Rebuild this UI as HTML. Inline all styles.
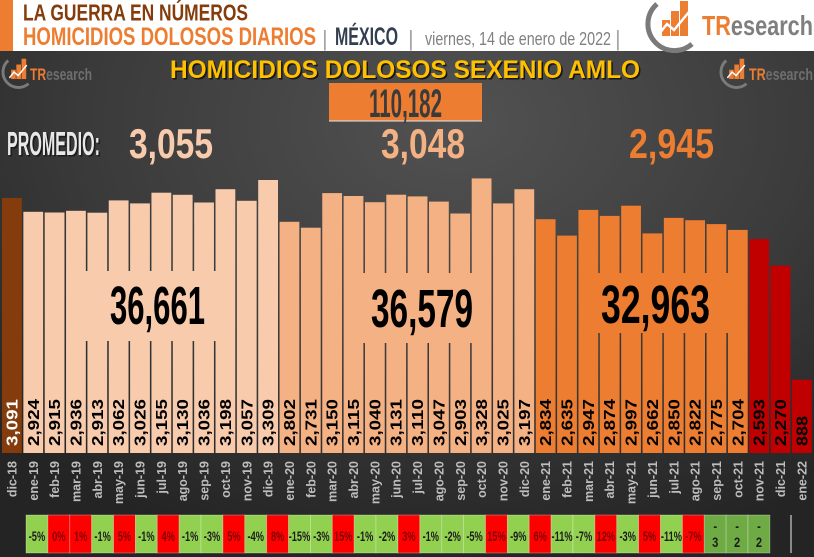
<!DOCTYPE html>
<html><head><meta charset="utf-8">
<style>
html,body{margin:0;padding:0;background:#fff;}
svg{display:block;font-family:"Liberation Sans",Arial,sans-serif;}
</style></head>
<body>
<svg width="814" height="557" viewBox="0 0 814 557" xmlns="http://www.w3.org/2000/svg">
<defs>
<radialGradient id="bg" cx="0.56" cy="0.22" r="0.8" fx="0.56" fy="0.22">
<stop offset="0" stop-color="#525252"/>
<stop offset="0.55" stop-color="#3b3b3b"/>
<stop offset="1" stop-color="#242424"/>
</radialGradient>
<g id="icon">
<path d="M9,6 A25,25 0 0 0 44,46" stroke="#7a7a7a" stroke-width="5" fill="none"/>
<rect x="14" y="22" width="8" height="16" fill="#ed7d31"/>
<rect x="23" y="13" width="8" height="25" fill="#ed7d31"/>
<rect x="32" y="3" width="8" height="35" fill="#ed7d31"/>
<polyline points="11,36 19,26 26,32 41,14" stroke="#fff" stroke-width="2.5" fill="none"/>
</g>
</defs>
<!-- background -->
<rect x="0" y="0" width="814" height="557" fill="url(#bg)"/>
<!-- header -->
<rect x="0" y="0" width="814" height="51" fill="#ffffff"/>
<rect x="0" y="0" width="13" height="51" fill="#ed7d31"/>
<text x="23" y="20.5" font-size="23" font-weight="bold" fill="#843c0c" textLength="225" lengthAdjust="spacingAndGlyphs">LA GUERRA EN NÚMEROS</text>
<text x="23" y="45" font-size="25" font-weight="bold" fill="#ed7d31" textLength="293" lengthAdjust="spacingAndGlyphs">HOMICIDIOS DOLOSOS DIARIOS</text>
<text x="322" y="46" font-size="22" fill="#a6a6a6">|</text>
<text x="335" y="45" font-size="25" font-weight="bold" fill="#333f4f" textLength="63" lengthAdjust="spacingAndGlyphs">MÉXICO</text>
<text x="408" y="46" font-size="22" fill="#a6a6a6">|</text>
<text x="425" y="45" font-size="18" fill="#808080" textLength="186" lengthAdjust="spacingAndGlyphs">viernes, 14 de enero de 2022</text>
<text x="615" y="46" font-size="22" fill="#a6a6a6">|</text>
<!-- top right logo -->
<g transform="translate(648,-2)"><use href="#icon"/></g>
<text x="702" y="35" font-size="28" font-weight="bold" textLength="111" lengthAdjust="spacingAndGlyphs"><tspan fill="#ed7d31">TR</tspan><tspan fill="#7f7f7f">esearch</tspan></text>
<!-- small logos -->
<g transform="translate(3,57) scale(0.58)"><use href="#icon"/></g>
<text x="30" y="80" font-size="17" font-weight="bold" textLength="62" lengthAdjust="spacingAndGlyphs"><tspan fill="#ed7d31">TR</tspan><tspan fill="#6e6e6e">esearch</tspan></text>
<g transform="translate(721,57) scale(0.58)"><use href="#icon"/></g>
<text x="749" y="80" font-size="17" font-weight="bold" textLength="64" lengthAdjust="spacingAndGlyphs"><tspan fill="#ed7d31">TR</tspan><tspan fill="#6e6e6e">esearch</tspan></text>
<!-- title -->
<text x="171.5" y="79.5" font-size="25" font-weight="bold" fill="#161616" textLength="470" lengthAdjust="spacingAndGlyphs">HOMICIDIOS DOLOSOS SEXENIO AMLO</text>
<text x="170" y="78" font-size="25" font-weight="bold" fill="#ffc000" textLength="470" lengthAdjust="spacingAndGlyphs">HOMICIDIOS DOLOSOS SEXENIO AMLO</text>
<!-- total box -->
<rect x="329" y="83" width="153" height="38" fill="#ed7d31"/>
<line x1="329" y1="121" x2="482" y2="121" stroke="#e8e8e8" stroke-width="1"/>
<text x="369" y="117" font-size="40" font-weight="bold" fill="#3b3b3b" textLength="73" lengthAdjust="spacingAndGlyphs">110,182</text>
<!-- promedio -->
<text x="8.5" y="156.5" font-size="33" font-weight="bold" fill="#1a1a1a" textLength="93" lengthAdjust="spacingAndGlyphs">PROMEDIO:</text>
<text x="7" y="155" font-size="33" font-weight="bold" fill="#e8e8e8" textLength="93" lengthAdjust="spacingAndGlyphs">PROMEDIO:</text>
<text x="129" y="158" font-size="42" font-weight="bold" fill="#f8cbad" textLength="84" lengthAdjust="spacingAndGlyphs">3,055</text>
<text x="381" y="158" font-size="42" font-weight="bold" fill="#f4b183" textLength="84" lengthAdjust="spacingAndGlyphs">3,048</text>
<text x="629" y="158" font-size="42" font-weight="bold" fill="#ed7d31" textLength="85" lengthAdjust="spacingAndGlyphs">2,945</text>
<!-- bars -->
<g>
<rect x="2.00" y="198.0" width="19.8" height="255.0" fill="#843c0c"/>
<rect x="23.35" y="211.8" width="19.8" height="241.2" fill="#f8cbad"/>
<rect x="44.70" y="212.5" width="19.8" height="240.5" fill="#f8cbad"/>
<rect x="66.05" y="210.8" width="19.8" height="242.2" fill="#f8cbad"/>
<rect x="87.40" y="212.7" width="19.8" height="240.3" fill="#f8cbad"/>
<rect x="108.75" y="200.4" width="19.8" height="252.6" fill="#f8cbad"/>
<rect x="130.10" y="203.4" width="19.8" height="249.6" fill="#f8cbad"/>
<rect x="151.45" y="192.7" width="19.8" height="260.3" fill="#f8cbad"/>
<rect x="172.80" y="194.8" width="19.8" height="258.2" fill="#f8cbad"/>
<rect x="194.15" y="202.5" width="19.8" height="250.5" fill="#f8cbad"/>
<rect x="215.50" y="189.2" width="19.8" height="263.8" fill="#f8cbad"/>
<rect x="236.85" y="200.8" width="19.8" height="252.2" fill="#f8cbad"/>
<rect x="258.20" y="180.0" width="19.8" height="273.0" fill="#f8cbad"/>
<rect x="279.55" y="221.8" width="19.8" height="231.2" fill="#f4b183"/>
<rect x="300.90" y="227.7" width="19.8" height="225.3" fill="#f4b183"/>
<rect x="322.25" y="193.1" width="19.8" height="259.9" fill="#f4b183"/>
<rect x="343.60" y="196.0" width="19.8" height="257.0" fill="#f4b183"/>
<rect x="364.95" y="202.2" width="19.8" height="250.8" fill="#f4b183"/>
<rect x="386.30" y="194.7" width="19.8" height="258.3" fill="#f4b183"/>
<rect x="407.65" y="196.4" width="19.8" height="256.6" fill="#f4b183"/>
<rect x="429.00" y="201.6" width="19.8" height="251.4" fill="#f4b183"/>
<rect x="450.35" y="213.5" width="19.8" height="239.5" fill="#f4b183"/>
<rect x="471.70" y="178.4" width="19.8" height="274.6" fill="#f4b183"/>
<rect x="493.05" y="203.4" width="19.8" height="249.6" fill="#f4b183"/>
<rect x="514.40" y="189.2" width="19.8" height="263.8" fill="#f4b183"/>
<rect x="535.75" y="219.2" width="19.8" height="233.8" fill="#ed7d31"/>
<rect x="557.10" y="235.6" width="19.8" height="217.4" fill="#ed7d31"/>
<rect x="578.45" y="209.9" width="19.8" height="243.1" fill="#ed7d31"/>
<rect x="599.80" y="215.9" width="19.8" height="237.1" fill="#ed7d31"/>
<rect x="621.15" y="205.7" width="19.8" height="247.3" fill="#ed7d31"/>
<rect x="642.50" y="233.4" width="19.8" height="219.6" fill="#ed7d31"/>
<rect x="663.85" y="217.9" width="19.8" height="235.1" fill="#ed7d31"/>
<rect x="685.20" y="220.2" width="19.8" height="232.8" fill="#ed7d31"/>
<rect x="706.55" y="224.1" width="19.8" height="228.9" fill="#ed7d31"/>
<rect x="727.90" y="229.9" width="19.8" height="223.1" fill="#ed7d31"/>
<rect x="749.25" y="239.1" width="19.8" height="213.9" fill="#c00000"/>
<rect x="770.60" y="265.7" width="19.8" height="187.3" fill="#c00000"/>
<rect x="791.95" y="379.7" width="19.8" height="73.3" fill="#c00000"/>
</g>
<!-- overlay boxes -->
<rect x="68" y="271" width="166" height="70" fill="#f8cbad"/>
<rect x="345" y="273" width="145" height="70" fill="#f4b183"/>
<rect x="585" y="273" width="149" height="60" fill="#ed7d31"/>
<text x="110" y="324" font-size="54" font-weight="bold" fill="#000" textLength="95" lengthAdjust="spacingAndGlyphs">36,661</text>
<text x="371" y="327" font-size="54" font-weight="bold" fill="#000" textLength="102" lengthAdjust="spacingAndGlyphs">36,579</text>
<text x="601" y="323" font-size="54" font-weight="bold" fill="#000" textLength="109" lengthAdjust="spacingAndGlyphs">32,963</text>
<!-- value labels -->
<g font-size="16" font-weight="bold" fill="#000">
<text transform="translate(17.4,446) rotate(-90)" fill="#fff" textLength="47" lengthAdjust="spacingAndGlyphs">3,091</text>
<text transform="translate(38.75,446) rotate(-90)" textLength="47" lengthAdjust="spacingAndGlyphs">2,924</text>
<text transform="translate(60.1,446) rotate(-90)" textLength="47" lengthAdjust="spacingAndGlyphs">2,915</text>
<text transform="translate(81.45,446) rotate(-90)" textLength="47" lengthAdjust="spacingAndGlyphs">2,936</text>
<text transform="translate(102.8,446) rotate(-90)" textLength="47" lengthAdjust="spacingAndGlyphs">2,913</text>
<text transform="translate(124.15,446) rotate(-90)" textLength="47" lengthAdjust="spacingAndGlyphs">3,062</text>
<text transform="translate(145.5,446) rotate(-90)" textLength="47" lengthAdjust="spacingAndGlyphs">3,026</text>
<text transform="translate(166.85,446) rotate(-90)" textLength="47" lengthAdjust="spacingAndGlyphs">3,155</text>
<text transform="translate(188.2,446) rotate(-90)" textLength="47" lengthAdjust="spacingAndGlyphs">3,130</text>
<text transform="translate(209.55,446) rotate(-90)" textLength="47" lengthAdjust="spacingAndGlyphs">3,036</text>
<text transform="translate(230.9,446) rotate(-90)" textLength="47" lengthAdjust="spacingAndGlyphs">3,198</text>
<text transform="translate(252.25,446) rotate(-90)" textLength="47" lengthAdjust="spacingAndGlyphs">3,057</text>
<text transform="translate(273.6,446) rotate(-90)" textLength="47" lengthAdjust="spacingAndGlyphs">3,309</text>
<text transform="translate(294.95,446) rotate(-90)" textLength="47" lengthAdjust="spacingAndGlyphs">2,802</text>
<text transform="translate(316.3,446) rotate(-90)" textLength="47" lengthAdjust="spacingAndGlyphs">2,731</text>
<text transform="translate(337.65,446) rotate(-90)" textLength="47" lengthAdjust="spacingAndGlyphs">3,150</text>
<text transform="translate(359,446) rotate(-90)" textLength="47" lengthAdjust="spacingAndGlyphs">3,115</text>
<text transform="translate(380.35,446) rotate(-90)" textLength="47" lengthAdjust="spacingAndGlyphs">3,040</text>
<text transform="translate(401.7,446) rotate(-90)" textLength="47" lengthAdjust="spacingAndGlyphs">3,131</text>
<text transform="translate(423.05,446) rotate(-90)" textLength="47" lengthAdjust="spacingAndGlyphs">3,110</text>
<text transform="translate(444.4,446) rotate(-90)" textLength="47" lengthAdjust="spacingAndGlyphs">3,047</text>
<text transform="translate(465.75,446) rotate(-90)" textLength="47" lengthAdjust="spacingAndGlyphs">2,903</text>
<text transform="translate(487.1,446) rotate(-90)" textLength="47" lengthAdjust="spacingAndGlyphs">3,328</text>
<text transform="translate(508.45,446) rotate(-90)" textLength="47" lengthAdjust="spacingAndGlyphs">3,025</text>
<text transform="translate(529.8,446) rotate(-90)" textLength="47" lengthAdjust="spacingAndGlyphs">3,197</text>
<text transform="translate(551.15,446) rotate(-90)" textLength="47" lengthAdjust="spacingAndGlyphs">2,834</text>
<text transform="translate(572.5,446) rotate(-90)" textLength="47" lengthAdjust="spacingAndGlyphs">2,635</text>
<text transform="translate(593.85,446) rotate(-90)" textLength="47" lengthAdjust="spacingAndGlyphs">2,947</text>
<text transform="translate(615.2,446) rotate(-90)" textLength="47" lengthAdjust="spacingAndGlyphs">2,874</text>
<text transform="translate(636.55,446) rotate(-90)" textLength="47" lengthAdjust="spacingAndGlyphs">2,997</text>
<text transform="translate(657.9,446) rotate(-90)" textLength="47" lengthAdjust="spacingAndGlyphs">2,662</text>
<text transform="translate(679.25,446) rotate(-90)" textLength="47" lengthAdjust="spacingAndGlyphs">2,850</text>
<text transform="translate(700.6,446) rotate(-90)" textLength="47" lengthAdjust="spacingAndGlyphs">2,822</text>
<text transform="translate(721.95,446) rotate(-90)" textLength="47" lengthAdjust="spacingAndGlyphs">2,775</text>
<text transform="translate(743.3,446) rotate(-90)" textLength="47" lengthAdjust="spacingAndGlyphs">2,704</text>
<text transform="translate(764.65,446) rotate(-90)" textLength="47" lengthAdjust="spacingAndGlyphs">2,593</text>
<text transform="translate(786,446) rotate(-90)" textLength="47" lengthAdjust="spacingAndGlyphs">2,270</text>
<text transform="translate(807.35,446) rotate(-90)" textLength="30" lengthAdjust="spacingAndGlyphs">888</text>
</g>
<!-- month labels -->
<g font-size="12.5" font-weight="bold" fill="#bdbdbd" text-anchor="end">
<text transform="translate(16.4,461) rotate(-90)">dic-18</text>
<text transform="translate(37.75,461) rotate(-90)">ene-19</text>
<text transform="translate(59.1,461) rotate(-90)">feb-19</text>
<text transform="translate(80.45,461) rotate(-90)">mar-19</text>
<text transform="translate(101.8,461) rotate(-90)">abr-19</text>
<text transform="translate(123.15,461) rotate(-90)">may-19</text>
<text transform="translate(144.5,461) rotate(-90)">jun-19</text>
<text transform="translate(165.85,461) rotate(-90)">jul-19</text>
<text transform="translate(187.2,461) rotate(-90)">ago-19</text>
<text transform="translate(208.55,461) rotate(-90)">sep-19</text>
<text transform="translate(229.9,461) rotate(-90)">oct-19</text>
<text transform="translate(251.25,461) rotate(-90)">nov-19</text>
<text transform="translate(272.6,461) rotate(-90)">dic-19</text>
<text transform="translate(293.95,461) rotate(-90)">ene-20</text>
<text transform="translate(315.3,461) rotate(-90)">feb-20</text>
<text transform="translate(336.65,461) rotate(-90)">mar-20</text>
<text transform="translate(358,461) rotate(-90)">abr-20</text>
<text transform="translate(379.35,461) rotate(-90)">may-20</text>
<text transform="translate(400.7,461) rotate(-90)">jun-20</text>
<text transform="translate(422.05,461) rotate(-90)">jul-20</text>
<text transform="translate(443.4,461) rotate(-90)">ago-20</text>
<text transform="translate(464.75,461) rotate(-90)">sep-20</text>
<text transform="translate(486.1,461) rotate(-90)">oct-20</text>
<text transform="translate(507.45,461) rotate(-90)">nov-20</text>
<text transform="translate(528.8,461) rotate(-90)">dic-20</text>
<text transform="translate(550.15,461) rotate(-90)">ene-21</text>
<text transform="translate(571.5,461) rotate(-90)">feb-21</text>
<text transform="translate(592.85,461) rotate(-90)">mar-21</text>
<text transform="translate(614.2,461) rotate(-90)">abr-21</text>
<text transform="translate(635.55,461) rotate(-90)">may-21</text>
<text transform="translate(656.9,461) rotate(-90)">jun-21</text>
<text transform="translate(678.25,461) rotate(-90)">jul-21</text>
<text transform="translate(699.6,461) rotate(-90)">ago-21</text>
<text transform="translate(720.95,461) rotate(-90)">sep-21</text>
<text transform="translate(742.3,461) rotate(-90)">oct-21</text>
<text transform="translate(763.65,461) rotate(-90)">nov-21</text>
<text transform="translate(785,461) rotate(-90)">dic-21</text>
<text transform="translate(806.35,461) rotate(-90)">ene-22</text>
</g>
<!-- percentage boxes -->
<g stroke="rgba(255,255,255,0.35)" stroke-width="0.8">
<rect x="26.00" y="515" width="21.88" height="38" fill="#92d050"/>
<rect x="47.88" y="515" width="21.88" height="38" fill="#ff0000"/>
<rect x="69.76" y="515" width="21.88" height="38" fill="#ff0000"/>
<rect x="91.64" y="515" width="21.88" height="38" fill="#92d050"/>
<rect x="113.52" y="515" width="21.88" height="38" fill="#ff0000"/>
<rect x="135.40" y="515" width="21.88" height="38" fill="#92d050"/>
<rect x="157.28" y="515" width="21.88" height="38" fill="#ff0000"/>
<rect x="179.16" y="515" width="21.88" height="38" fill="#92d050"/>
<rect x="201.04" y="515" width="21.88" height="38" fill="#92d050"/>
<rect x="222.92" y="515" width="21.88" height="38" fill="#ff0000"/>
<rect x="244.80" y="515" width="21.88" height="38" fill="#92d050"/>
<rect x="266.68" y="515" width="21.88" height="38" fill="#ff0000"/>
<rect x="288.56" y="515" width="21.88" height="38" fill="#92d050"/>
<rect x="310.44" y="515" width="21.88" height="38" fill="#92d050"/>
<rect x="332.32" y="515" width="21.88" height="38" fill="#ff0000"/>
<rect x="354.20" y="515" width="21.88" height="38" fill="#92d050"/>
<rect x="376.08" y="515" width="21.88" height="38" fill="#92d050"/>
<rect x="397.96" y="515" width="21.88" height="38" fill="#ff0000"/>
<rect x="419.84" y="515" width="21.88" height="38" fill="#92d050"/>
<rect x="441.72" y="515" width="21.88" height="38" fill="#92d050"/>
<rect x="463.60" y="515" width="21.88" height="38" fill="#92d050"/>
<rect x="485.48" y="515" width="21.88" height="38" fill="#ff0000"/>
<rect x="507.36" y="515" width="21.88" height="38" fill="#92d050"/>
<rect x="529.24" y="515" width="21.88" height="38" fill="#ff0000"/>
<rect x="551.12" y="515" width="21.88" height="38" fill="#92d050"/>
<rect x="573.00" y="515" width="21.88" height="38" fill="#92d050"/>
<rect x="594.88" y="515" width="21.88" height="38" fill="#ff0000"/>
<rect x="616.76" y="515" width="21.88" height="38" fill="#92d050"/>
<rect x="638.64" y="515" width="21.88" height="38" fill="#ff0000"/>
<rect x="660.52" y="515" width="21.88" height="38" fill="#92d050"/>
<rect x="682.40" y="515" width="21.88" height="38" fill="#ff0000"/>
<rect x="704.28" y="515" width="21.88" height="38" fill="#6fab45"/>
<rect x="726.16" y="515" width="21.88" height="38" fill="#6fab45"/>
<rect x="748.04" y="515" width="21.88" height="38" fill="#6fab45"/>
</g>
<line x1="791" y1="515" x2="791" y2="553" stroke="#8a8a8a" stroke-width="2"/>
<g font-size="14" font-weight="bold" text-anchor="middle">
<text transform="translate(36.94,541) scale(0.66,1)" fill="#1c1c1c">-5%</text>
<text transform="translate(58.82,541) scale(0.66,1)" fill="#7f0000">0%</text>
<text transform="translate(80.70,541) scale(0.66,1)" fill="#7f0000">1%</text>
<text transform="translate(102.58,541) scale(0.66,1)" fill="#1c1c1c">-1%</text>
<text transform="translate(124.46,541) scale(0.66,1)" fill="#7f0000">5%</text>
<text transform="translate(146.34,541) scale(0.66,1)" fill="#1c1c1c">-1%</text>
<text transform="translate(168.22,541) scale(0.66,1)" fill="#7f0000">4%</text>
<text transform="translate(190.10,541) scale(0.66,1)" fill="#1c1c1c">-1%</text>
<text transform="translate(211.98,541) scale(0.66,1)" fill="#1c1c1c">-3%</text>
<text transform="translate(233.86,541) scale(0.66,1)" fill="#7f0000">5%</text>
<text transform="translate(255.74,541) scale(0.66,1)" fill="#1c1c1c">-4%</text>
<text transform="translate(277.62,541) scale(0.66,1)" fill="#7f0000">8%</text>
<text transform="translate(299.50,541) scale(0.66,1)" fill="#1c1c1c">-15%</text>
<text transform="translate(321.38,541) scale(0.66,1)" fill="#1c1c1c">-3%</text>
<text transform="translate(343.26,541) scale(0.66,1)" fill="#7f0000">15%</text>
<text transform="translate(365.14,541) scale(0.66,1)" fill="#1c1c1c">-1%</text>
<text transform="translate(387.02,541) scale(0.66,1)" fill="#1c1c1c">-2%</text>
<text transform="translate(408.90,541) scale(0.66,1)" fill="#7f0000">3%</text>
<text transform="translate(430.78,541) scale(0.66,1)" fill="#1c1c1c">-1%</text>
<text transform="translate(452.66,541) scale(0.66,1)" fill="#1c1c1c">-2%</text>
<text transform="translate(474.54,541) scale(0.66,1)" fill="#1c1c1c">-5%</text>
<text transform="translate(496.42,541) scale(0.66,1)" fill="#7f0000">15%</text>
<text transform="translate(518.30,541) scale(0.66,1)" fill="#1c1c1c">-9%</text>
<text transform="translate(540.18,541) scale(0.66,1)" fill="#7f0000">6%</text>
<text transform="translate(562.06,541) scale(0.66,1)" fill="#1c1c1c">-11%</text>
<text transform="translate(583.94,541) scale(0.66,1)" fill="#1c1c1c">-7%</text>
<text transform="translate(605.82,541) scale(0.66,1)" fill="#7f0000">12%</text>
<text transform="translate(627.70,541) scale(0.66,1)" fill="#1c1c1c">-3%</text>
<text transform="translate(649.58,541) scale(0.66,1)" fill="#7f0000">5%</text>
<text transform="translate(671.46,541) scale(0.66,1)" fill="#1c1c1c">-11%</text>
<text transform="translate(693.34,541) scale(0.66,1)" fill="#7f0000">-7%</text>
<text transform="translate(715.22,531) scale(0.8,1)" fill="#1c1c1c">-</text>
<text transform="translate(715.22,547) scale(0.8,1)" fill="#1c1c1c">3</text>
<text transform="translate(737.10,531) scale(0.8,1)" fill="#1c1c1c">-</text>
<text transform="translate(737.10,547) scale(0.8,1)" fill="#1c1c1c">2</text>
<text transform="translate(758.98,531) scale(0.8,1)" fill="#1c1c1c">-</text>
<text transform="translate(758.98,547) scale(0.8,1)" fill="#1c1c1c">2</text>
</g>
</svg>
</body></html>
